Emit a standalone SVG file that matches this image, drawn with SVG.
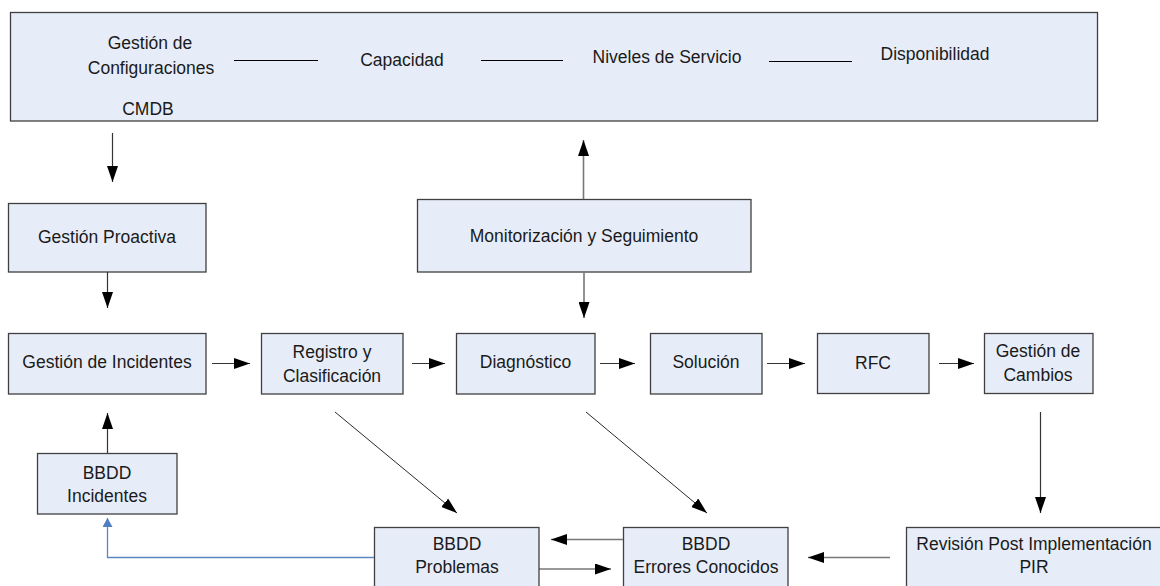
<svg xmlns="http://www.w3.org/2000/svg" width="1160" height="586" viewBox="0 0 1160 586">
<style>
.box{fill:#E7EDF8;stroke:#404040;stroke-width:1.3}
.t{font-family:"Liberation Sans",Arial,sans-serif;font-size:17.5px;fill:#1a1a1a;text-anchor:middle}
.c{stroke:#333;stroke-width:1.2;fill:none}
.cg{stroke:#777;stroke-width:1.6;fill:none}
.d{stroke:#111;stroke-width:0.9;fill:none}
.b{stroke:#5B86C2;stroke-width:1.3;fill:none}
</style>
<defs>
<marker id="ah" viewBox="0 0 16 11" refX="16" refY="5.5" markerWidth="16" markerHeight="11" markerUnits="userSpaceOnUse" orient="auto">
<path d="M0,0 L16,5.5 L0,11 Z" fill="#000"/>
</marker>
<marker id="ahb" viewBox="0 0 9 10" refX="9" refY="5" markerWidth="9" markerHeight="10" markerUnits="userSpaceOnUse" orient="auto">
<path d="M0,0 L9,5 L0,10 Z" fill="#4F7FC0"/>
</marker>
</defs>
<rect width="1160" height="586" fill="#fff"/>

<g id="top">
<rect class="box" x="10.5" y="12.5" width="1087" height="108.5"/>
<text class="t" x="150" y="49">Gestión de</text>
<text class="t" x="151" y="74">Configuraciones</text>
<text class="t" x="148" y="115">CMDB</text>
<text class="t" x="402" y="66">Capacidad</text>
<text class="t" x="667" y="63">Niveles de Servicio</text>
<text class="t" x="935" y="60">Disponibilidad</text>
<line x1="234" y1="60.5" x2="318" y2="60.5" stroke="#000" stroke-width="1"/>
<line x1="481" y1="60.5" x2="563" y2="60.5" stroke="#000" stroke-width="1"/>
<line x1="769" y1="61.5" x2="852" y2="61.5" stroke="#000" stroke-width="1"/>
</g>

<g id="gestion-proactiva">
<rect class="box" x="8.5" y="203.5" width="197.5" height="68.5"/>
<text class="t" x="107" y="243">Gestión Proactiva</text>
</g>

<g id="monitorizacion">
<rect class="box" x="417.5" y="199.5" width="333.5" height="72.5"/>
<text class="t" x="584" y="242">Monitorización y Seguimiento</text>
</g>

<g id="gestion-incidentes">
<rect class="box" x="8.5" y="333.5" width="197.5" height="60.5"/>
<text class="t" x="107" y="368">Gestión de Incidentes</text>
</g>

<g id="registro">
<rect class="box" x="261.5" y="333.5" width="141.5" height="60.5"/>
<text class="t" x="332" y="358">Registro y</text>
<text class="t" x="332" y="382">Clasificación</text>
</g>

<g id="diagnostico">
<rect class="box" x="456.5" y="333.5" width="138.5" height="60.5"/>
<text class="t" x="525.5" y="368">Diagnóstico</text>
</g>

<g id="solucion">
<rect class="box" x="650.5" y="333.5" width="111.5" height="60.5"/>
<text class="t" x="706" y="368">Solución</text>
</g>

<g id="rfc">
<rect class="box" x="817.5" y="333.5" width="111.5" height="60"/>
<text class="t" x="873" y="369">RFC</text>
</g>

<g id="gestion-cambios">
<rect class="box" x="984.5" y="333.5" width="108.5" height="60"/>
<text class="t" x="1038" y="357">Gestión de</text>
<text class="t" x="1038" y="381">Cambios</text>
</g>

<g id="bbdd-incidentes">
<rect class="box" x="37.5" y="453.5" width="139.5" height="60.5"/>
<text class="t" x="107" y="479">BBDD</text>
<text class="t" x="107" y="502">Incidentes</text>
</g>

<g id="bbdd-problemas">
<rect class="box" x="374.5" y="527.5" width="164.5" height="65"/>
<text class="t" x="457" y="550">BBDD</text>
<text class="t" x="457" y="573">Problemas</text>
</g>

<g id="bbdd-errores">
<rect class="box" x="623.5" y="527.5" width="164.5" height="65"/>
<text class="t" x="706" y="550">BBDD</text>
<text class="t" x="706" y="573">Errores Conocidos</text>
</g>

<g id="revision-pir">
<rect class="box" x="906.5" y="527.5" width="257" height="65"/>
<text class="t" x="1034" y="550">Revisión Post Implementación</text>
<text class="t" x="1034" y="573">PIR</text>
</g>

<g id="connectors">
<line class="c" x1="112.5" y1="133" x2="112.5" y2="182" marker-end="url(#ah)"/>
<line class="c" x1="107.5" y1="272" x2="107.5" y2="308" marker-end="url(#ah)"/>
<line class="cg" x1="583.5" y1="199" x2="583.5" y2="140" marker-end="url(#ah)"/>
<line class="cg" x1="584" y1="272" x2="584" y2="318" marker-end="url(#ah)"/>
<line class="c" x1="212" y1="363.5" x2="250" y2="363.5" marker-end="url(#ah)"/>
<line class="c" x1="412" y1="363.5" x2="445" y2="363.5" marker-end="url(#ah)"/>
<line class="c" x1="600" y1="363.5" x2="635" y2="363.5" marker-end="url(#ah)"/>
<line class="c" x1="767" y1="363.5" x2="805" y2="363.5" marker-end="url(#ah)"/>
<line class="c" x1="939" y1="363.5" x2="974" y2="363.5" marker-end="url(#ah)"/>
<line class="c" x1="1040.5" y1="412" x2="1040.5" y2="513" marker-end="url(#ah)"/>
<line class="cg" x1="890" y1="557.5" x2="808" y2="557.5" marker-end="url(#ah)"/>
<line class="cg" x1="623" y1="539.5" x2="551" y2="539.5" marker-end="url(#ah)"/>
<line class="c" x1="539" y1="569" x2="611" y2="569" marker-end="url(#ah)"/>
<line class="d" x1="335" y1="412" x2="457" y2="513" marker-end="url(#ah)"/>
<line class="d" x1="586" y1="412" x2="707" y2="513" marker-end="url(#ah)"/>
<line class="c" x1="107.5" y1="453" x2="107.5" y2="413" marker-end="url(#ah)"/>
<polyline class="b" points="374,557.5 107.5,557.5 107.5,518" marker-end="url(#ahb)"/>
</g>
</svg>
